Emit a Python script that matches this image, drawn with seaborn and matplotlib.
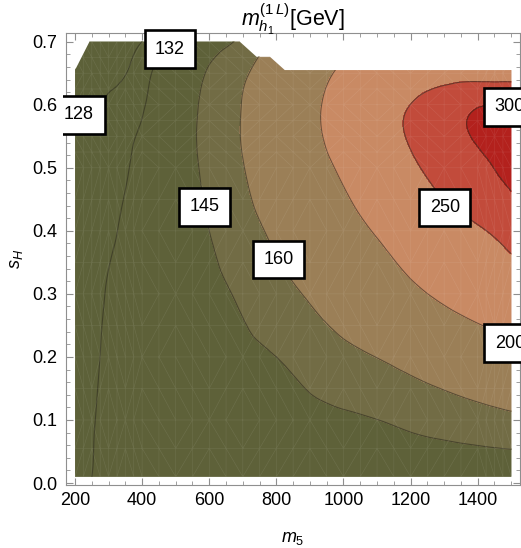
import numpy as np
import matplotlib
matplotlib.use("Agg")
import matplotlib.pyplot as plt
import matplotlib.transforms as mtransforms
import matplotlib.tri as mtri
from matplotlib.patches import Polygon
from matplotlib.ticker import MultipleLocator, FormatStrFormatter
import seaborn as sns

# ---------------- data ----------------
m5 = [200, 250, 300, 350, 400, 500, 600, 700, 800, 900, 1000, 1100, 1200, 1300, 1400, 1450, 1500]
sH = [0.01, 0.1, 0.2, 0.3, 0.4, 0.5, 0.55, 0.6, 0.65, 0.7]

mh_s001 = [131.0, 132.0, 132.4, 132.8, 133.1, 133.6, 134.0, 134.4, 134.7, 135.0, 135.3, 135.6, 135.9, 136.2, 136.5, 136.7, 137.0]
mh_s010 = [130.8, 131.8, 132.7, 133.6, 134.5, 136.2, 137.8, 139.3, 140.7, 142.1, 143.5, 144.9, 147.6, 150.4, 153.2, 154.6, 156.0]
mh_s020 = [130.8, 131.4, 132.8, 134.2, 135.5, 138.0, 140.3, 142.7, 145.0, 150.0, 155.2, 160.3, 167.0, 174.0, 181.5, 185.5, 190.0]
mh_s030 = [130.5, 131.2, 132.3, 133.8, 135.3, 138.5, 142.0, 147.0, 154.2, 162.2, 173.0, 183.8, 194.6, 205.0, 215.0, 220.0, 225.0]
mh_s040 = [130.0, 130.8, 131.4, 132.8, 135.0, 139.5, 145.0, 153.8, 163.8, 176.5, 189.2, 202.2, 216.7, 231.2, 245.7, 254.5, 267.0]
mh_s050 = [129.0, 129.8, 130.6, 131.5, 134.2, 140.3, 147.7, 159.3, 174.1, 188.9, 204.6, 224.3, 243.9, 265.9, 289.2, 300.8, 315.0]
mh_s055 = [128.4, 129.3, 130.2, 131.1, 132.85, 139.9, 148.5, 161.1, 177.3, 193.4, 211.9, 232.4, 253.3, 276.5, 305.0, 312.0, 318.0]
mh_s060 = [127.4, 127.8, 128.5, 129.9, 131.5, 139.0, 148.0, 160.7, 177.3, 194.0, 212.3, 231.2, 250.3, 270.0, 296.0, 299.0, 301.0]
mh_s065 = [126.8, 127.1, 127.5, 127.9, 130.2, 137.2, 146.1, 157.4, 172.6, 189.0, 205.0, 219.0, 230.0, 236.0, 234.0, 233.0, 232.0]
mh_s070 = [126.0, 126.5, 126.9, 127.4, 128.0, 133.7, 140.6, 148.0, 166.0, 180.0, 192.0, 203.0, 212.0, 218.0, 222.0, 222.0, 220.0]

# boundary of the sampled parameter region (top part of the scan is missing)
domain_m5 = [200, 1500, 1500, 825, 781, 741, 691, 243, 200]
domain_sH = [0.01, 0.01, 0.655, 0.655, 0.676, 0.676, 0.70, 0.70, 0.655]

contour_levels = [128, 132, 145, 160, 200, 250, 300]
label_values = [132, 128, 145, 160, 250, 300, 200]
x_ticks = [200, 400, 600, 800, 1000, 1200, 1400]
y_ticks = [0.0, 0.1, 0.2, 0.3, 0.4, 0.5, 0.6, 0.7]

# ---------------- styling ----------------
sns.set_theme(style="ticks")
plt.rcParams["font.family"] = ["Liberation Sans", "DejaVu Sans"]
plt.rcParams["mathtext.fontset"] = "custom"
plt.rcParams["mathtext.rm"] = "Liberation Sans"
plt.rcParams["mathtext.it"] = "Liberation Sans:italic"
plt.rcParams["mathtext.bf"] = "Liberation Sans:bold"

frame_col = "#8f8f8f"

fig = plt.figure(figsize=(5.21, 5.48), dpi=100)
ax = fig.add_axes([66.3 / 521, 0.1142, (520 - 66.3) / 521, 0.9398 - 0.1142])

X, Y = np.meshgrid(m5, sH)
Z = np.array([mh_s001, mh_s010, mh_s020, mh_s030, mh_s040,
              mh_s050, mh_s055, mh_s060, mh_s065, mh_s070])

tri = mtri.Triangulation(X.ravel(), Y.ravel())
refiner = mtri.UniformTriRefiner(tri)
tri_r, z_r = refiner.refine_field(Z.ravel(), subdiv=3)

fill_levels = [100] + contour_levels + [400]
fill_colors = ["#5d6139", "#5d6139", "#5e6139", "#726c45",
               "#9b7f57", "#c98a64", "#c24b3b", "#b3211d"]

cf = ax.tricontourf(tri_r, z_r, levels=fill_levels, colors=fill_colors, zorder=1)
cf.set_edgecolor("face")
cf.set_linewidth(0.4)
cl = ax.tricontour(tri_r, z_r, levels=contour_levels, colors="#2e2c1e",
                   linewidths=0.8, alpha=0.6, zorder=2)

dom = Polygon(np.column_stack([domain_m5, domain_sH]), closed=True,
              transform=ax.transData, facecolor="none", edgecolor="none")
ax.add_patch(dom)
cf.set_clip_path(dom)
cl.set_clip_path(dom)

# faint rendering mesh (subdivided sampling triangulation)
mesh_tri = refiner.refine_triangulation(subdiv=1)
mesh = ax.triplot(mesh_tri, color="white", lw=0.45, alpha=0.09, zorder=3)
for ln in mesh:
    ln.set_clip_path(dom)

ax.set_xlim(174, 1526)
ax.set_ylim(-0.0038, 0.7138)

# contour labels (Mathematica-style boxes)
label_pos = {132: (483, 0.688), 128: (212, 0.584), 145: (587, 0.438),
             160: (807, 0.3545), 250: (1302, 0.437), 300: (1494, 0.597),
             200: (1496, 0.222)}
clip_bb = mtransforms.TransformedBbox(
    mtransforms.Bbox([[63 / 521, 0.0], [1.0, 1.0]]), fig.transFigure)
for v in label_values:
    x, y = label_pos[v]
    t = ax.text(x, y, str(v), ha="center", va="center", fontsize=13,
                color="black", zorder=6,
                bbox=dict(boxstyle="square,pad=0.58", fc="white",
                          ec="black", lw=1.9))
    t.set_clip_path(None)
    t.set_clip_box(clip_bb)
    t.set_clip_on(True)

# axes / ticks
ax.set_xticks(x_ticks)
ax.set_yticks(y_ticks)
ax.xaxis.set_minor_locator(MultipleLocator(50))
ax.yaxis.set_minor_locator(MultipleLocator(0.02))
ax.yaxis.set_major_formatter(FormatStrFormatter("%.1f"))
ax.tick_params(which="both", direction="in", top=True, right=True,
               color=frame_col, labelsize=13, labelcolor="black")
ax.tick_params(which="major", length=5, width=0.8)
ax.tick_params(which="minor", length=3, width=0.6)
ax.tick_params(axis="x", pad=4.5)
ax.tick_params(axis="y", pad=6.5)
for sp in ax.spines.values():
    sp.set_color(frame_col)
    sp.set_linewidth(0.8)
    sp.set_visible(True)
ax.grid(False)

ax.set_title(r"$m_{h_1}^{(1\,L)}$[GeV]", fontsize=15.5, color="black",
             y=1.0, pad=4.5)
ax.set_xlabel(r"$m_5$", fontsize=13, color="black")
ax.set_ylabel(r"$s_H$", fontsize=13, color="black")
ax.xaxis.set_label_coords(0.5, -0.098)
ax.yaxis.set_label_coords(-0.092, 0.5)

fig.savefig("out.png", dpi=100)
